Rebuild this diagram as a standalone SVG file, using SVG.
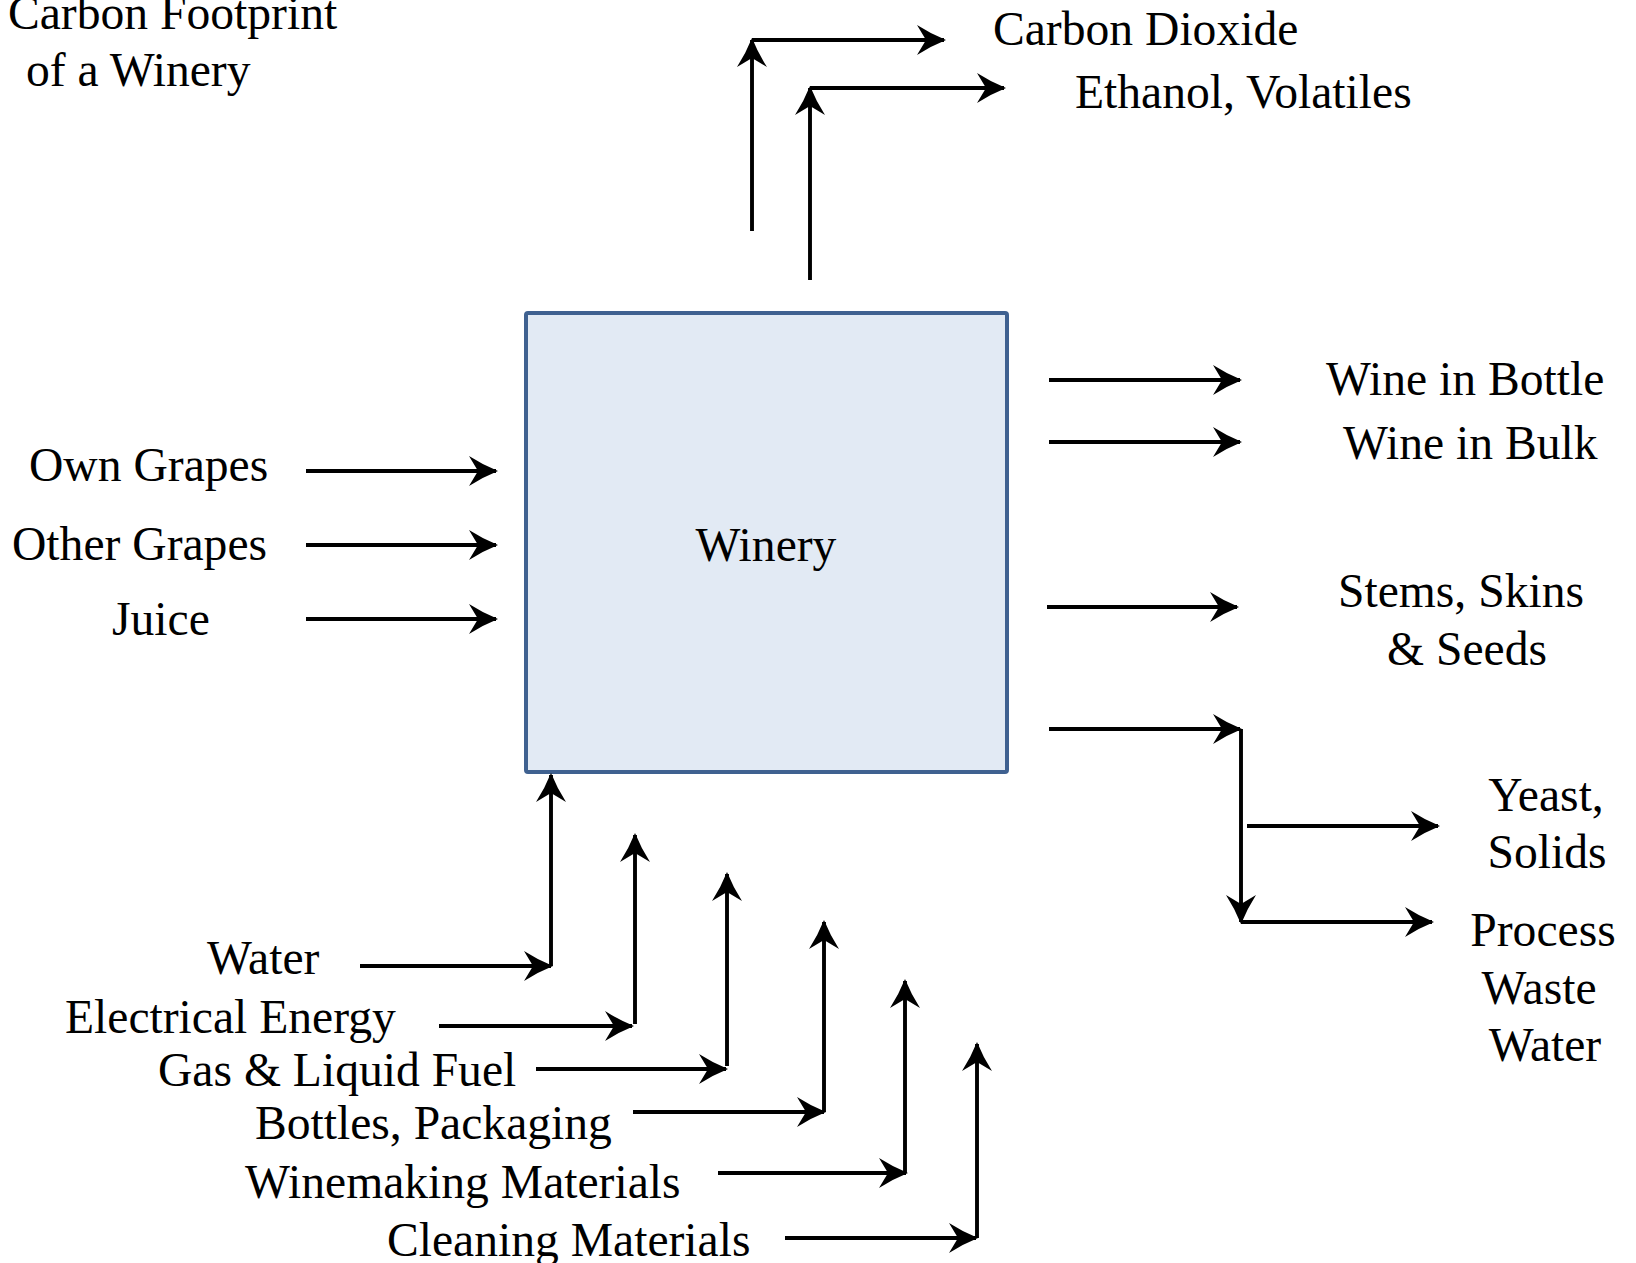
<svg xmlns="http://www.w3.org/2000/svg" width="1636" height="1263" viewBox="0 0 1636 1263">
<style>
text{font-family:"Liberation Serif","Times New Roman",serif;font-size:47.6px;fill:#000}
.c{stroke:#000;stroke-width:3.9;fill:none;marker-end:url(#ah)}
.m{text-anchor:middle}
</style>
<defs>
<marker id="ah" markerUnits="userSpaceOnUse" orient="auto" markerWidth="36" markerHeight="36" refX="0" refY="0" viewBox="-32 -18 36 36" overflow="visible">
<path d="M2,0 Q-13,-6 -27,-15 L-18,0 L-27,15 Q-13,6 2,0 Z" fill="#000"/>
</marker>
</defs>
<rect width="1636" height="1263" fill="#fff"/>
<g id="title">
<text x="8" y="29">Carbon Footprint</text>
<text x="26" y="86">of a Winery</text>
</g>
<g id="winery">
<rect x="526" y="313" width="481" height="459" rx="2" fill="#E2EAF4" stroke="#3F6190" stroke-width="4"/>
<text class="m" x="766" y="561">Winery</text>
</g>
<g id="labels">
<text x="993" y="45">Carbon Dioxide</text>
<text x="1075" y="108">Ethanol, Volatiles</text>
<text x="1326" y="395">Wine in Bottle</text>
<text x="1343" y="459">Wine in Bulk</text>
<text class="m" x="1461" y="607">Stems, Skins</text>
<text class="m" x="1467" y="665">&amp; Seeds</text>
<text class="m" x="1546" y="811">Yeast,</text>
<text class="m" x="1547" y="868">Solids</text>
<text class="m" x="1543" y="946">Process</text>
<text class="m" x="1539" y="1004">Waste</text>
<text class="m" x="1545" y="1061">Water</text>
<text x="29" y="481">Own Grapes</text>
<text x="12" y="560">Other Grapes</text>
<text x="112" y="635">Juice</text>
<text x="207" y="974">Water</text>
<text x="65" y="1033">Electrical Energy</text>
<text x="158" y="1086">Gas &amp; Liquid Fuel</text>
<text x="255" y="1139">Bottles, Packaging</text>
<text x="245" y="1198">Winemaking Materials</text>
<text x="387" y="1256">Cleaning Materials</text>
</g>
<g id="connectors">
<path class="c" d="M752,231 V40"/>
<path class="c" d="M752,40 H944"/>
<path class="c" d="M810,280 V88"/>
<path class="c" d="M810,88 H1004"/>
<path class="c" d="M1049,380 H1240"/>
<path class="c" d="M1049,442 H1240"/>
<path class="c" d="M1047,607 H1237"/>
<path class="c" d="M1049,729 H1240"/>
<path class="c" d="M1241,729 V922"/>
<path class="c" d="M1247,826 H1438"/>
<path class="c" d="M1241,922 H1432"/>
<path class="c" d="M306,471 H496"/>
<path class="c" d="M306,545 H496"/>
<path class="c" d="M306,619 H496"/>
<path class="c" d="M360,966 H551"/>
<path class="c" d="M551,966 V775"/>
<path class="c" d="M439,1026 H632"/>
<path class="c" d="M635,1024 V835"/>
<path class="c" d="M536,1069 H726"/>
<path class="c" d="M727,1066 V874"/>
<path class="c" d="M633,1112 H824"/>
<path class="c" d="M824,1112 V922"/>
<path class="c" d="M718,1173 H906"/>
<path class="c" d="M905,1173 V981"/>
<path class="c" d="M785,1238 H976"/>
<path class="c" d="M977,1238 V1044"/>
</g>
</svg>
